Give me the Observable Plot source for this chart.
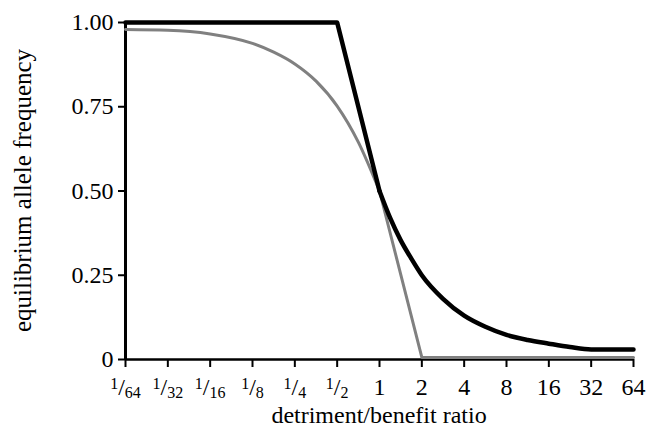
<!DOCTYPE html>
<html><head><meta charset="utf-8">
<script src="https://cdn.jsdelivr.net/npm/d3@7"></script>
<script src="https://cdn.jsdelivr.net/npm/@observablehq/plot@0.6"></script>
<style>
html,body{margin:0;padding:0;background:#fff;font-family:'Liberation Serif';}
#chart svg{display:block;}
</style></head><body><div id="chart"></div>
<script>
// tick values and labels
const xTicks = [1/64, 1/32, 1/16, 1/8, 1/4, 1/2, 1, 2, 4, 8, 16, 32, 64];
const xTickLabels = ["1/64","1/32","1/16","1/8","1/4","1/2","1","2","4","8","16","32","64"];
const yTicks = [0, 0.25, 0.5, 0.75, 1];
const yTickLabels = ["0","0.25","0.50","0.75","1.00"];

// black series: flat part + steep drop (straight), then decaying tail (curved)
const blackHeadRatio = [1/64, 1/2, 1];
const blackHeadFreq  = [1.0, 1.0, 0.5];
const blackTailRatio = [1, 1.19, 1.41, 1.68, 2, 2.83, 4, 5.66, 8, 11.3, 16, 22.6, 32, 64];
const blackTailFreq  = [0.5, 0.42, 0.355, 0.30, 0.25, 0.18, 0.13, 0.097, 0.073, 0.058, 0.047, 0.037, 0.03, 0.03];

// gray series: smooth decline, then straight drop to ~0 at 2
const grayHeadRatio = [1/64, 1/32, 1/16, 1/8, 0.177, 1/4, 0.354, 1/2, 0.707, 1];
const grayHeadFreq  = [0.979, 0.977, 0.966, 0.938, 0.912, 0.877, 0.826, 0.752, 0.645, 0.5];
const grayTailRatio = [1, 2, 64];
const grayTailFreq  = [0.5, 0.006, 0.006];

const zip = (xs, ys) => xs.map((x, i) => ({r: x, v: ys[i]}));

const W = 646, H = 442;
const FONT = "Liberation Serif";

const svg = Plot.plot({
  width: W, height: H,
  marginLeft: 125, marginRight: 13, marginTop: 22, marginBottom: 83,
  x: {type: "log", base: 2, domain: [1/64, 64]},
  y: {domain: [0, 1]},
  marks: [
    Plot.axisY({ticks: yTicks, tickFormat: d => yTickLabels[yTicks.indexOf(d)], tickSize: 7, tickPadding: 5, strokeWidth: 2, label: null, fontSize: 24, fill: "#000"}),
    Plot.axisX({ticks: xTicks, tickFormat: d => xTickLabels[xTicks.indexOf(d)], tickSize: 8, tickPadding: 10, strokeWidth: 2, label: null, fontSize: 24, fill: "#000"}),
    Plot.ruleX([1/64], {stroke: "#000", strokeWidth: 3}),
    Plot.ruleY([0], {stroke: "#000", strokeWidth: 2.5}),
    Plot.line(zip(grayHeadRatio, grayHeadFreq), {x: "r", y: "v", curve: "monotone-x", stroke: "#808080", strokeWidth: 3}),
    Plot.line(zip(grayTailRatio, grayTailFreq), {x: "r", y: "v", curve: "linear", stroke: "#808080", strokeWidth: 3}),
    Plot.line(zip(blackHeadRatio, blackHeadFreq), {x: "r", y: "v", curve: "linear", stroke: "#000", strokeWidth: 4.5}),
    Plot.line(zip(blackTailRatio, blackTailFreq), {x: "r", y: "v", curve: "monotone-x", stroke: "#000", strokeWidth: 4.5})
  ]
});

svg.setAttribute("font-family", FONT);
svg.style.fontFamily = FONT;

document.getElementById("chart").appendChild(svg);

const s = d3.select(svg);

// fraction-style tick labels
s.selectAll('g[aria-label="x-axis tick label"] text').each(function() {
  const t = d3.select(this);
  const txt = t.text();
  if (txt.includes("/")) {
    const [num, den] = txt.split("/");
    t.text(null);
    t.append("tspan").attr("font-size", "16").attr("dy", "-6").text(num);
    t.append("tspan").attr("dy", "6").text("/");
    t.append("tspan").attr("font-size", "16").attr("dy", "3").text(den);
  }
});

// axis titles
s.append("text")
  .attr("x", (125 + (W - 13)) / 2).attr("y", 423)
  .attr("text-anchor", "middle")
  .attr("font-size", 24).attr("fill", "#000")
  .text("detriment/benefit ratio");
s.append("text")
  .attr("transform", `translate(31,${(22 + 359) / 2}) rotate(-90)`)
  .attr("text-anchor", "middle")
  .attr("font-size", 25).attr("fill", "#000")
  .text("equilibrium allele frequency");

s.selectAll("g, text, tspan").attr("font-family", FONT).style("font-family", FONT);
</script>
</body></html>
